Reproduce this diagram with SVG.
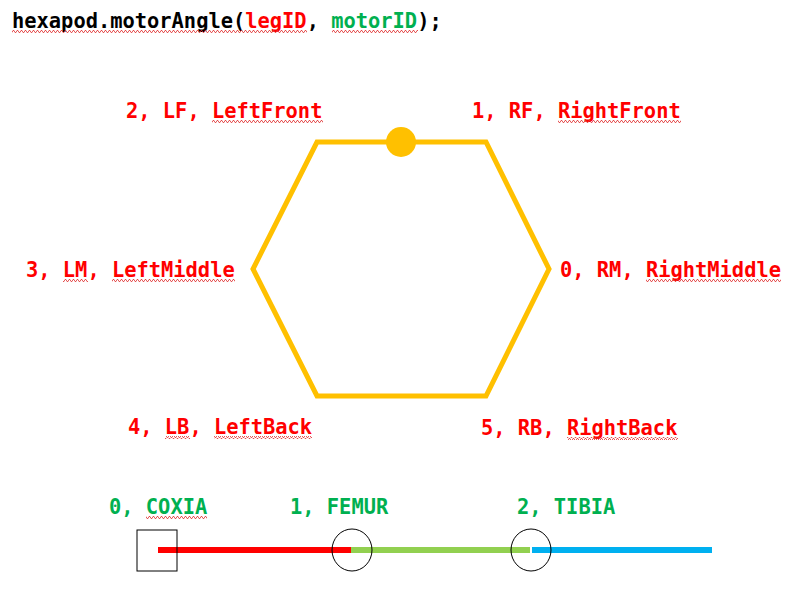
<svg xmlns="http://www.w3.org/2000/svg" width="809" height="593" viewBox="0 0 809 593">
<style>
.t{font-family:"DejaVu Sans Mono","Liberation Mono",monospace;font-weight:bold;font-size:20.4px}
.r{fill:#FF0000}.g{fill:#00B050}.k{fill:#000000}
.sq{fill:url(#squig)}
</style>
<defs>
<pattern id="squig" width="4" height="3" patternUnits="userSpaceOnUse">
<polyline points="0,2.5 1,0.5 2,0.5 3,2.5 4,2.5" fill="none" stroke="#E03030" stroke-width="0.8"/>
</pattern>
</defs>
<rect width="809" height="593" fill="#FFFFFF"/>
<g id="title">
<text class="t k" x="12" y="28">hexapod.motorAngle(<tspan class="r">legID</tspan>, <tspan class="g">motorID</tspan>);</text>
<rect class="sq" x="12" y="30" width="295" height="3"/>
<rect class="sq" x="332" y="30" width="86" height="3"/>
</g>
<g id="body">
<polygon points="317,142 486,142 549,269 486,396 317,396 253,269" fill="none" stroke="#FFC000" stroke-width="5"/>
<circle cx="401" cy="142" r="15" fill="#FFC000"/>
</g>
<g id="leg2"><text class="t r" x="126" y="118">2, LF, LeftFront</text><rect class="sq" x="212" y="120" width="111" height="3"/></g>
<g id="leg1"><text class="t r" x="472" y="118">1, RF, RightFront</text><rect class="sq" x="558" y="120" width="123" height="3"/></g>
<g id="leg3"><text class="t r" x="26" y="277">3, LM, LeftMiddle</text><rect class="sq" x="63" y="279" width="25" height="3"/><rect class="sq" x="112" y="279" width="123" height="3"/></g>
<g id="leg0"><text class="t r" x="560" y="277">0, RM, RightMiddle</text><rect class="sq" x="646" y="279" width="135" height="3"/></g>
<g id="leg4"><text class="t r" x="128" y="434">4, LB, LeftBack</text><rect class="sq" x="165" y="436" width="25" height="3"/><rect class="sq" x="214" y="436" width="98" height="3"/></g>
<g id="leg5"><text class="t r" x="481" y="435">5, RB, RightBack</text><rect class="sq" x="567" y="437" width="111" height="3"/></g>
<g id="connectors">
<line x1="158" y1="550" x2="351" y2="550" stroke="#FF0000" stroke-width="6"/>
<line x1="351" y1="550" x2="530" y2="550" stroke="#92D050" stroke-width="6"/>
<line x1="532" y1="550" x2="712" y2="550" stroke="#00B0F0" stroke-width="6"/>
</g>
<g id="coxia"><text class="t g" x="109" y="514">0, COXIA</text><rect class="sq" x="146" y="516" width="61" height="3"/><rect x="137" y="530" width="40" height="41" fill="none" stroke="#000" stroke-width="1"/></g>
<g id="femur"><text class="t g" x="290" y="514">1, FEMUR</text><ellipse cx="352" cy="550" rx="20" ry="21" fill="none" stroke="#000" stroke-width="1"/></g>
<g id="tibia"><text class="t g" x="517" y="514">2, TIBIA</text><ellipse cx="531" cy="550" rx="20" ry="21" fill="none" stroke="#000" stroke-width="1"/></g>
</svg>
